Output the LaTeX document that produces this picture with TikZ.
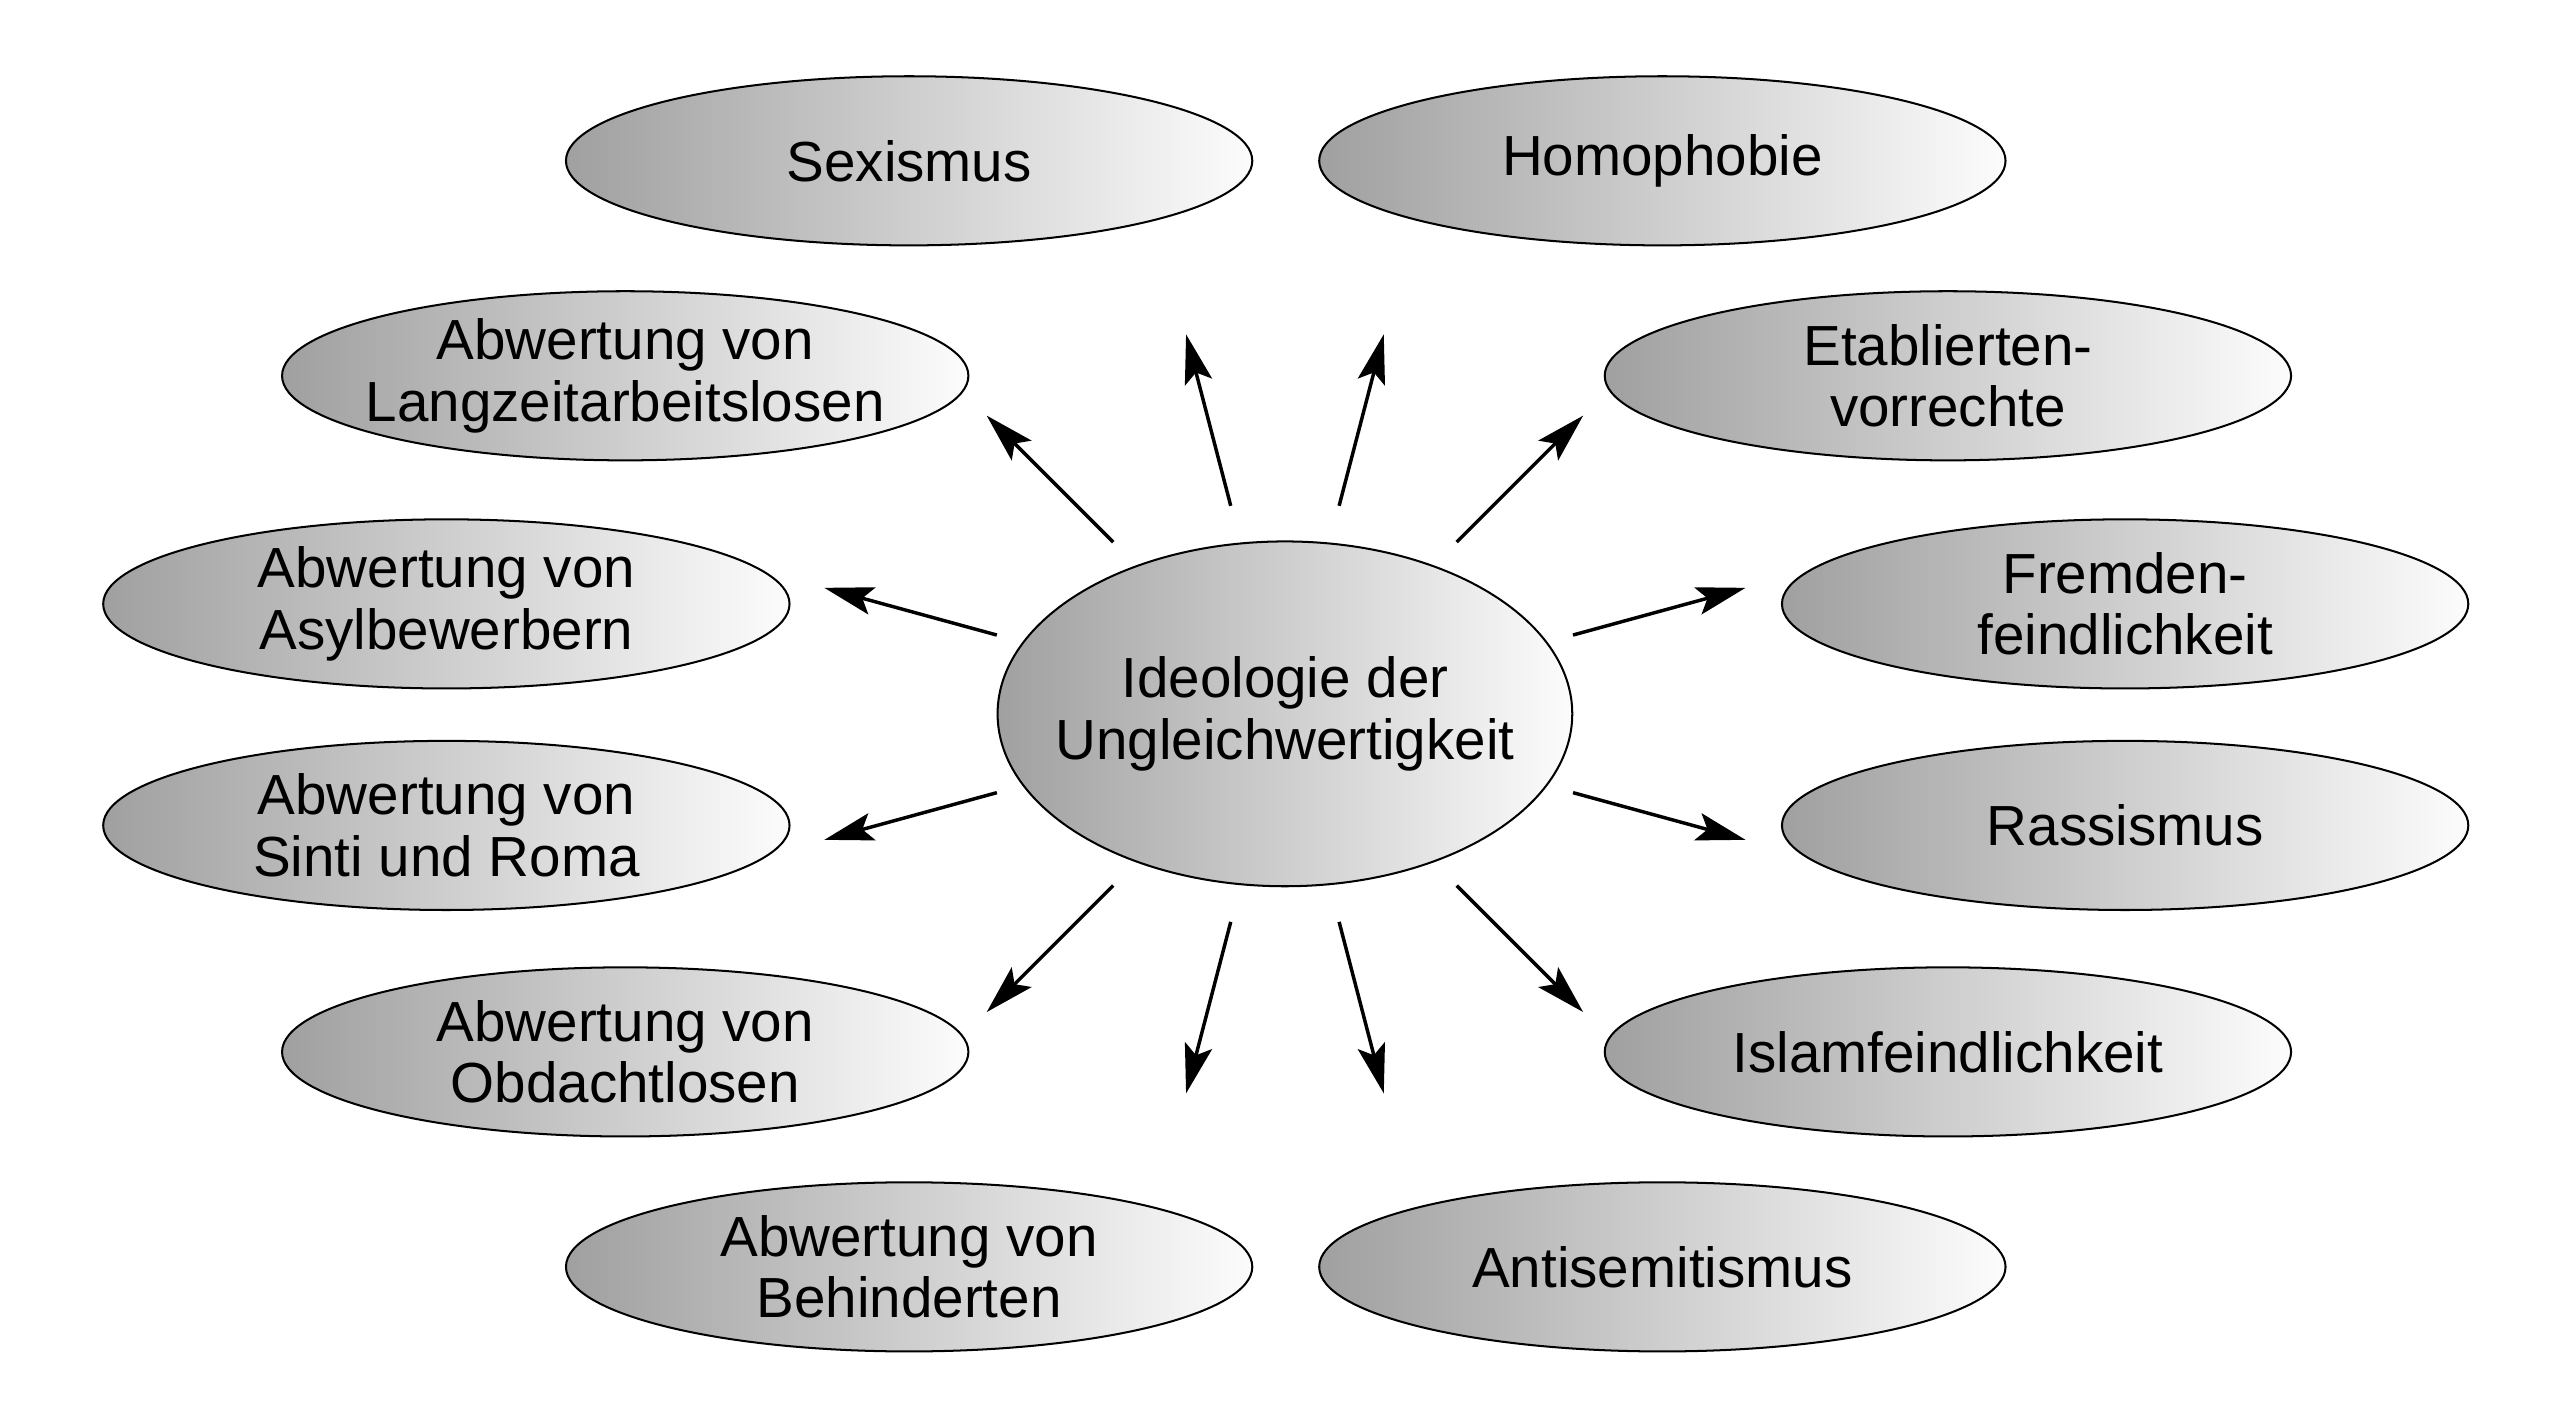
\documentclass[tikz,border=0pt]{standalone}
\usepackage{fontspec}
\setmainfont{Liberation Sans}
\usetikzlibrary{arrows.meta,shapes.geometric}
\definecolor{blobgray}{RGB}{160,160,160}
\definecolor{blobwhite}{RGB}{252,252,252}
\tikzset{
  blob/.style={ellipse, draw, line width=0.35pt, left color=blobgray, right color=blobwhite,
    minimum width=4.18cm, minimum height=1.03cm, inner sep=0pt},
  core/.style={blob, minimum width=3.5cm, minimum height=2.1cm},
  tag/.style={align=center, inner sep=0pt, font=\fontsize{9.8pt}{10.7pt}\selectfont},
  ray/.style={-{Stealth[length=0.3cm, width=0.17cm, inset=0.06cm]}, line width=0.6pt}
}
\begin{document}
\begin{tikzpicture}[x=0.01cm, y=0.01cm]
\useasboundingbox (0,0) rectangle (1560,866);
% centre
\node[core] (ideo) at (783,431) {};
\node[tag] (ideo-t) at (ideo) {Ideologie der\\Ungleichwertigkeit};
% left column
\node[blob] (sexismus) at (554,768) {};
\node[tag] (sexismus-t) at (sexismus) {Sexismus};
\node[blob] (langzeit) at (381,637) {};
\node[tag] (langzeit-t) at (langzeit) {Abwertung von\\Langzeitarbeitslosen};
\node[blob] (asyl) at (272,498) {};
\node[tag] (asyl-t) at (asyl) {Abwertung von\\Asylbewerbern};
\node[blob] (sinti) at (272,363) {};
\node[tag] (sinti-t) at (sinti) {Abwertung von\\Sinti und Roma};
\node[blob] (obdach) at (381,225) {};
\node[tag] (obdach-t) at (obdach) {Abwertung von\\Obdachtlosen};
\node[blob] (behind) at (554,94) {};
\node[tag] (behind-t) at (behind) {Abwertung von\\Behinderten};
% right column
\node[blob] (homophobie) at (1013,768) {};
\node[tag] (homophobie-t) at (homophobie) {Homophobie};
\node[blob] (etabliert) at (1187,637) {};
\node[tag] (etabliert-t) at (etabliert) {Etablierten-\\vorrechte};
\node[blob] (fremden) at (1295,498) {};
\node[tag] (fremden-t) at (fremden) {Fremden-\\feindlichkeit};
\node[blob] (rassismus) at (1295,363) {};
\node[tag] (rassismus-t) at (rassismus) {Rassismus};
\node[blob] (islam) at (1187,225) {};
\node[tag] (islam-t) at (islam) {Islamfeindlichkeit};
\node[blob] (antisem) at (1013,94) {};
\node[tag] (antisem-t) at (antisem) {Antisemitismus};
% rays
\foreach \a/\r/\R [count=\i] in {135/148/257, 104.6/131/239, 75.4/131/239, 45/148/257,
    164.7/182/291, 15.3/182/291, 195.3/182/291, 344.7/182/291,
    225/148/257, 255.4/131/239, 284.6/131/239, 315/148/257} {
  \coordinate (s\i) at ([shift={(\a:\r)}]ideo.center);
  \coordinate (e\i) at ([shift={(\a:\R)}]ideo.center);
  \draw[ray] (s\i) -- (e\i);
}
\end{tikzpicture}
\end{document}
